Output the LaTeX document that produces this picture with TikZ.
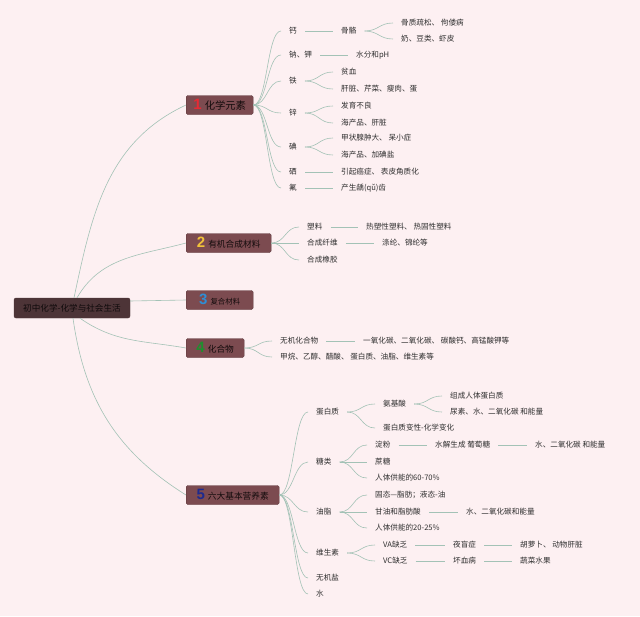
\documentclass[tikz,border=0pt]{standalone}
\usepackage{fontspec}
\setmainfont{Noto Sans CJK SC}
\newfontfamily\numfamily{Liberation Sans}
\usepackage{tikz}

\definecolor{bgpink}{HTML}{FDF0F2}
\definecolor{linkcol}{HTML}{A3C2B6}
\definecolor{boxfill}{HTML}{7C4B50}
\definecolor{boxline}{HTML}{5B3539}
\definecolor{rootfill}{HTML}{4D3437}
\definecolor{leafcol}{HTML}{2E2E2E}
\definecolor{numred}{HTML}{E52A34}
\definecolor{numyellow}{HTML}{F2C23A}
\definecolor{numblue}{HTML}{2F8ED6}
\definecolor{numgreen}{HTML}{1F8F2E}
\definecolor{numnavy}{HTML}{1E2A8E}

\newcommand{\brnum}[2]{{\numfamily\bfseries\fontsize{15}{15}\selectfont\color{#1}#2}\hspace{3pt}}

\begin{document}
\begin{tikzpicture}[x=1pt,y=1pt,
  leaf/.style={anchor=west,inner xsep=8pt,inner ysep=1pt,text=leafcol,font=\fontsize{7.6}{9}\selectfont},
  brbox/.style={anchor=west,fill=boxfill,draw=boxline,line width=0.4pt,rounded corners=1.5pt,minimum height=19pt,inner xsep=4pt,text=black!85!boxfill,font=\fontsize{8.7}{10}\selectfont},
  rootbox/.style={fill=rootfill,draw=rootfill,rounded corners=2pt,minimum width=116pt,minimum height=20pt,text=black!80!rootfill,font=\fontsize{8.6}{10}\selectfont},
  link/.style={draw=linkcol,line width=0.6pt},
  fan/.style={to path={.. controls +(14,0) and +(-14,0) .. (\tikztotarget)}}]
\path[use as bounding box,fill=bgpink] (0,0) rectangle (640,-616);

% Root
\node[rootbox] (root) at (72,-308) {初中化学-化学与社会生活};

% Branch boxes
\node[brbox,minimum width=67pt,font=\fontsize{10.3}{11}\selectfont] (elem) at (186,-105) {\brnum{numred}{1}化学元素};
\node[brbox,minimum width=85pt] (organic) at (186,-243) {\brnum{numyellow}{2}有机合成材料};
\node[brbox,minimum width=67pt,font=\fontsize{7.4}{9}\selectfont] (compo) at (186,-300) {\brnum{numblue}{3}复合材料};
\node[brbox,minimum width=58pt] (cmpd) at (186,-348) {\brnum{numgreen}{4}化合物};
\node[brbox,minimum width=93pt] (nutri) at (186,-495) {\brnum{numnavy}{5}六大基本营养素};

\draw[link] ([xshift=2pt]root.north) to[out=78,in=205] (elem.west);
\draw[link] ([xshift=5pt]root.north) to[out=60,in=195] (organic.west);
\draw[link] ([yshift=7pt]root.east) -- (compo.west);
\draw[link] ([xshift=8pt]root.south) to[out=-35,in=170] (cmpd.west);
\draw[link] ([xshift=1pt]root.south) to[out=-82,in=148] (nutri.west);

% Element tree
\node[leaf] (ca) at (281,-31) {钙};
\node[leaf] (nak) at (281,-55) {钠、钾};
\node[leaf] (fe) at (281,-81) {铁};
\node[leaf] (zn) at (281,-113) {锌};
\node[leaf] (iod) at (281,-147) {碘};
\node[leaf] (se) at (281,-172) {硒};
\node[leaf] (fl) at (281,-188) {氟};
\node[leaf] (bone) at (333,-31) {骨骼};
\node[leaf] (bone1) at (393,-23) {骨质疏松、 佝偻病};
\node[leaf] (bone2) at (393,-39) {奶、豆类、虾皮};
\node[leaf] (water) at (348,-55) {水分和pH};
\node[leaf] (fe1) at (333,-72) {贫血};
\node[leaf] (fe2) at (333,-89) {肝脏、芹菜、瘦肉、蛋};
\node[leaf] (zn1) at (333,-106) {发育不良};
\node[leaf] (zn2) at (333,-123) {海产品、肝脏};
\node[leaf] (iod1) at (333,-138) {甲状腺肿大、 呆小症};
\node[leaf] (iod2) at (333,-155) {海产品、加碘盐};
\node[leaf] (se1) at (333,-172) {引起癌症、 表皮角质化};
\node[leaf] (fl1) at (333,-188) {产生龋(qǔ)齿};

\foreach \c in {ca,nak,fe,zn,iod,se,fl}
  \draw[link] (elem.east) to[fan] (\c.west);
\draw[link] (ca) -- (bone);
\draw[link] (bone.east) to[fan] (bone1.west);
\draw[link] (bone.east) to[fan] (bone2.west);
\draw[link] (nak) -- (water);
\draw[link] (fe.east) to[fan] (fe1.west);
\draw[link] (fe.east) to[fan] (fe2.west);
\draw[link] (zn.east) to[fan] (zn1.west);
\draw[link] (zn.east) to[fan] (zn2.west);
\draw[link] (iod.east) to[fan] (iod1.west);
\draw[link] (iod.east) to[fan] (iod2.west);
\draw[link] (se) -- (se1);
\draw[link] (fl) -- (fl1);

% Organic material tree
\node[leaf] (plastic) at (299,-227) {塑料};
\node[leaf] (fiber) at (299,-243) {合成纤维};
\node[leaf] (rubber) at (299,-260) {合成橡胶};
\node[leaf] (plastic1) at (358,-227) {热塑性塑料、 热固性塑料};
\node[leaf] (fiber1) at (374,-243) {涤纶、锦纶等};

\foreach \c in {plastic,fiber,rubber}
  \draw[link] (organic.east) to[fan] (\c.west);
\draw[link] (plastic) -- (plastic1);
\draw[link] (fiber) -- (fiber1);

% Compound tree
\node[leaf] (inorg) at (272,-341) {无机化合物};
\node[leaf] (org) at (272,-357) {甲烷、乙醇、醋酸、 蛋白质、油脂、维生素等};
\node[leaf] (inorg1) at (355,-341) {一氧化碳、二氧化碳、 碳酸钙、高锰酸钾等};

\draw[link] (cmpd.east) to[fan] (inorg.west);
\draw[link] (cmpd.east) to[fan] (org.west);
\draw[link] (inorg) -- (inorg1);

% Nutrient tree
\node[leaf] (prot) at (308,-412) {蛋白质};
\node[leaf] (sugar) at (308,-462) {糖类};
\node[leaf] (fat) at (308,-512) {油脂};
\node[leaf] (vit) at (308,-553) {维生素};
\node[leaf] (salt) at (308,-578) {无机盐};
\node[leaf] (h2o) at (308,-594) {水};

\node[leaf] (amino) at (375,-404) {氨基酸};
\node[leaf] (denat) at (375,-428) {蛋白质变性-化学变化};
\node[leaf] (amino1) at (442,-396) {组成人体蛋白质};
\node[leaf] (amino2) at (442,-412) {尿素、水、二氧化碳 和能量};

\node[leaf] (starch) at (367,-445) {淀粉};
\node[leaf] (sucro) at (367,-462) {蔗糖};
\node[leaf] (sugar3) at (367,-478) {人体供能的60-70\%};
\node[leaf] (gluc) at (427,-445) {水解生成 葡萄糖};
\node[leaf] (gluc1) at (527,-445) {水、二氧化碳 和能量};

\node[leaf] (fat1) at (367,-495) {固态—脂肪；液态-油};
\node[leaf] (fat2) at (367,-512) {甘油和脂肪酸};
\node[leaf] (fat3) at (367,-528) {人体供能的20-25\%};
\node[leaf] (fat4) at (458,-512) {水、二氧化碳和能量};

\node[leaf] (va) at (375,-545) {VA缺乏};
\node[leaf] (vc) at (375,-561) {VC缺乏};
\node[leaf] (va1) at (445,-545) {夜盲症};
\node[leaf] (vc1) at (445,-561) {坏血病};
\node[leaf] (va2) at (512,-545) {胡萝卜、 动物肝脏};
\node[leaf] (vc2) at (512,-561) {蔬菜水果};

\foreach \c in {prot,sugar,fat,vit,salt,h2o}
  \draw[link] (nutri.east) to[fan] (\c.west);
\draw[link] (prot.east) to[fan] (amino.west);
\draw[link] (prot.east) to[fan] (denat.west);
\draw[link] (amino.east) to[fan] (amino1.west);
\draw[link] (amino.east) to[fan] (amino2.west);
\foreach \c in {starch,sucro,sugar3}
  \draw[link] (sugar.east) to[fan] (\c.west);
\draw[link] (starch) -- (gluc);
\draw[link] (gluc) -- (gluc1);
\foreach \c in {fat1,fat2,fat3}
  \draw[link] (fat.east) to[fan] (\c.west);
\draw[link] (fat2) -- (fat4);
\draw[link] (vit.east) to[fan] (va.west);
\draw[link] (vit.east) to[fan] (vc.west);
\draw[link] (va) -- (va1);
\draw[link] (va1) -- (va2);
\draw[link] (vc) -- (vc1);
\draw[link] (vc1) -- (vc2);
\end{tikzpicture}
\end{document}
